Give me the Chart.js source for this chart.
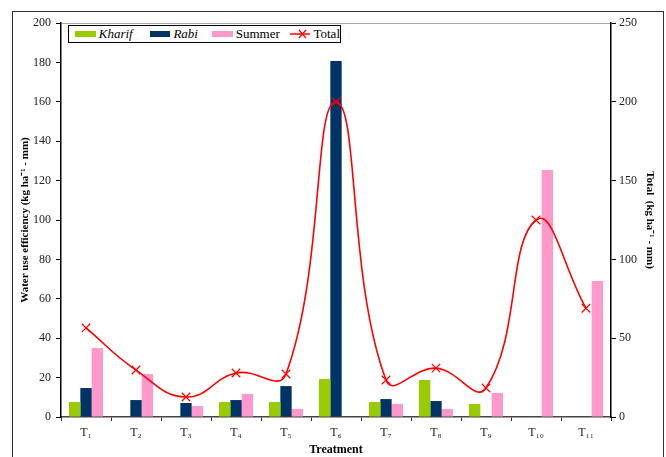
<!DOCTYPE html>
<html>
<head>
<meta charset="utf-8">
<script src="https://cdn.jsdelivr.net/npm/chart.js@4/dist/chart.umd.min.js"></script>
<style>
  html, body { margin: 0; padding: 0; background: #fff; }
  #wrap { position: relative; width: 666px; height: 457px; }
  #legend {
    position: absolute; left: 68px; top: 25px; width: 271px; height: 16px;
    border: 1px solid #000; background: #fff;
    font: 13px "Liberation Serif", serif; color: #000;
    display: flex; align-items: center; white-space: nowrap;
  }
  #legend .sw { display: inline-block; width: 25px; height: 6px; margin-left: 6px; margin-right: 3px; }
  #legend i { font-style: italic; }
</style>
</head>
<body>
<div id="wrap">
  <canvas id="myChart" width="666" height="457"></canvas>
  <div id="legend">
    <span class="sw" style="background:#99cc00"></span><i>Kharif</i>
    <span class="sw" style="background:#003366;margin-left:17px"></span><i>Rabi</i>
    <span class="sw" style="background:#ff99cc;margin-left:14px"></span><span>Summer</span>
    <svg width="25" height="10" style="margin-left:10px;margin-right:3px"><line x1="0" y1="5" x2="25" y2="5" stroke="#ff0000" stroke-width="1.5"/><path d="M9 1 L16 9 M16 1 L9 9" stroke="#ff0000" stroke-width="1.2"/></svg><span>Total</span>
  </div>
</div>
<script>
// treatments on the x axis
const treatments = ['T\u2081', 'T\u2082', 'T\u2083', 'T\u2084', 'T\u2085', 'T\u2086', 'T\u2087', 'T\u2088', 'T\u2089', 'T\u2081\u2080', 'T\u2081\u2081'];

// water use efficiency per season (kg ha-1 - mm)
const kharif = [7.6, 0, 0, 7.6, 7.6, 19.3, 7.6, 18.8, 6.6, 0, 0];
const rabi = [14.7, 8.6, 7.1, 8.6, 15.7, 180.7, 9.1, 8.1, 0, 0, 0];
const summer = [35, 21.8, 5.6, 11.7, 4.1, 0, 6.6, 4.1, 12.2, 125.4, 69];

// total, right axis
const total = [56.5, 29.8, 12.7, 27.9, 27.3, 200, 23.5, 31, 18.4, 125, 69];

const serif = '"Liberation Serif", "Times New Roman", serif';

// outer frame and grey top line of the plot
const framePlugin = {
  id: 'frame',
  beforeDraw (chart) {
    const c = chart.ctx;
    const a = chart.chartArea;
    c.save();
    c.strokeStyle = '#333';
    c.lineWidth = 1;
    c.strokeRect(12.5, 11.5, 651, 470);
    c.strokeStyle = '#aaa';
    c.beginPath();
    c.moveTo(a.left, a.top + 0.5);
    c.lineTo(a.right, a.top + 0.5);
    c.stroke();
    c.restore();
  }
};

new Chart(document.getElementById('myChart'), {
  data: {
    labels: treatments,
    datasets: [
      { type: 'line', label: 'Total', data: total, yAxisID: 'y2', borderColor: '#ff0000', backgroundColor: '#ff0000',
        borderWidth: 1.6, tension: 0.45, pointStyle: 'crossRot', pointRadius: 6, pointBorderWidth: 1.2, order: 0 },
      { type: 'bar', label: 'Kharif', data: kharif, backgroundColor: '#99cc00', yAxisID: 'y', order: 1 },
      { type: 'bar', label: 'Rabi', data: rabi, backgroundColor: '#003366', yAxisID: 'y', order: 1 },
      { type: 'bar', label: 'Summer', data: summer, backgroundColor: '#ff99cc', yAxisID: 'y', order: 1 }
    ]
  },
  options: {
    responsive: false,
    animation: false,
    datasets: { bar: { barPercentage: 1, categoryPercentage: 0.68 } },
    layout: { padding: { left: 14, right: 0, top: 23, bottom: 0 } },
    plugins: { legend: { display: false }, tooltip: { enabled: false } },
    scales: {
      x: {
        offset: true,
        grid: { display: true, drawOnChartArea: false, color: '#333', tickLength: 4, offset: true },
        border: { color: '#444', width: 1.5 },
        ticks: { color: '#222', font: { family: serif, size: 12 }, padding: 5, maxRotation: 0 },
        title: { display: true, text: 'Treatment', color: '#000', font: { family: serif, size: 12, weight: 'bold' }, padding: { top: 0, bottom: 0 } },
        afterFit (s) { s.height = 40; }
      },
      y: {
        position: 'left', min: 0, max: 200,
        ticks: { stepSize: 20, color: '#222', font: { family: serif, size: 12 }, padding: 5 },
        grid: { drawOnChartArea: false, color: '#000', tickLength: 5 },
        border: { color: '#000', width: 1.5 },
        title: { display: true, text: 'Water use efficiency (kg ha\u207B\u00B9 - mm)', color: '#000', font: { family: serif, size: 11, weight: 'bold' }, padding: { top: 5, bottom: 0 } },
        afterFit (s) { s.width = 47; }
      },
      y2: {
        position: 'right', min: 0, max: 250,
        ticks: { stepSize: 50, color: '#222', font: { family: serif, size: 12 }, padding: 3 },
        grid: { drawOnChartArea: false, color: '#000', tickLength: 5 },
        border: { color: '#000', width: 1.5 },
        title: { display: true, text: 'Total  (kg ha\u207B\u00B9 - mm)', color: '#000', font: { family: serif, size: 11, weight: 'bold' }, padding: { top: 10, bottom: 0 } },
        afterFit (s) { s.width = 55; }
      }
    }
  },
  plugins: [framePlugin]
});
</script>
</body>
</html>
